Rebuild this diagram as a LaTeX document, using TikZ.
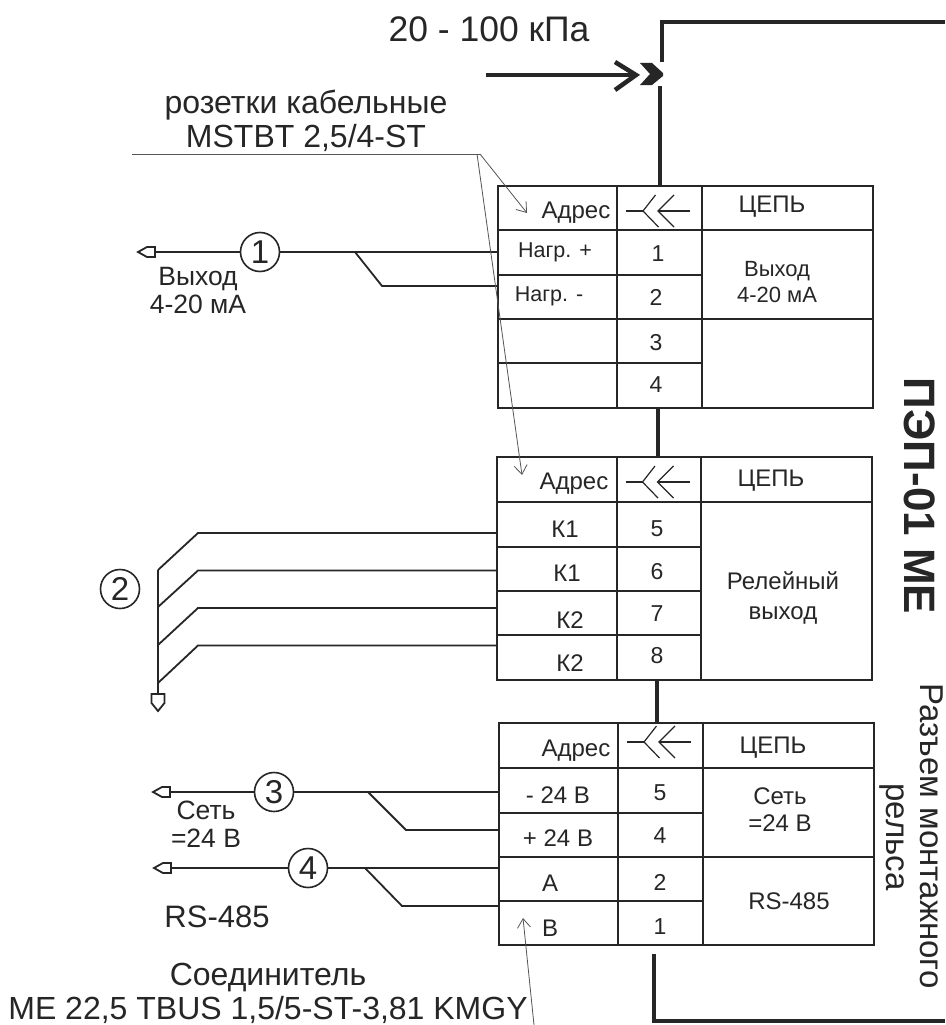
\documentclass[tikz,border=0pt]{standalone}
\usepackage{fontspec}
\setmainfont{Liberation Sans}
\usetikzlibrary{arrows.meta}
\definecolor{ink}{HTML}{262626}
\definecolor{lead}{HTML}{555555}
\newcommand{\fs}[2]{\fontsize{#1}{#2}\selectfont}
\newcommand{\cellb}[5]{\node[cellbox,minimum width={#4-#2},minimum height={#5-#3}] (#1) at ({(#2+#4)/2},{(#3+#5)/2}) {};}
\newcommand{\conn}[2]{%
  \draw[thinw] (#1-33.5,#2) -- (#1-16.5,#2);
  \draw[thinw] (#1-4,#2-16) -- (#1-16.5,#2) -- (#1-1,#2+16);
  \draw[thinw] (#1+30.5,#2) -- (#1-1.5,#2);
  \draw[thinw] (#1+14.5,#2-16) -- (#1-1.5,#2) -- (#1+14.5,#2+16);}
\newcommand{\termleft}[1]{\draw[wire,fill=white,line join=miter] (#1) ++(0,-5) -- ++(-8,0) -- ++(-9,5) -- ++(9,5) -- ++(8,0) -- cycle;}
\tikzset{
  cellbox/.style={draw=ink,line width=1.5pt,inner sep=0pt,outer sep=0pt},
  wire/.style={draw=ink,line width=1.8pt},
  thinw/.style={draw=ink,line width=1.2pt},
  bus/.style={draw=ink,line width=4pt},
  leader/.style={draw=lead,line width=0.8pt},
  leadarrow/.style={leader,-{Straight Barb[length=9pt,width=13pt,line width=0.8pt]}},
  wiremark/.style={draw=ink,circle,line width=1.6pt,minimum size=39pt,inner sep=0pt,text=ink,font=\fs{33}{33}},
  big/.style={text=ink,inner sep=0pt,align=center,font=\fs{32}{34}},
  mid/.style={text=ink,inner sep=0pt,align=center,font=\fs{24}{28}},
  small/.style={text=ink,inner sep=0pt,align=center,font=\fs{21.5}{26}},
  lab/.style={text=ink,inner sep=0pt,align=center,font=\fs{24}{28}},
  outer/.style={text=ink,inner sep=0pt,align=center,font=\fs{26.5}{28}},
  num/.style={text=ink,inner sep=0pt,font=\fs{23}{23}}
}
\begin{document}
\begin{tikzpicture}[x=1pt,y=-1pt]
\useasboundingbox (0,0) rectangle (945,1025);
\fill[white] (0,0) rectangle (945,1025);

% table 1
\cellb{aH}{498}{186}{617}{230}\cellb{bH}{617}{186}{702}{230}\cellb{cH}{702}{186}{873}{230}
\cellb{aA}{498}{230}{617}{275}\cellb{bA}{617}{230}{702}{275}
\cellb{aB}{498}{275}{617}{319}\cellb{bB}{617}{275}{702}{319}
\cellb{aC}{498}{319}{617}{363}\cellb{bC}{617}{319}{702}{363}
\cellb{aD}{498}{363}{617}{408}\cellb{bD}{617}{363}{702}{408}
\cellb{cA}{702}{230}{873}{319}\cellb{cB}{702}{319}{873}{408}
\conn{659.5}{211}
\node[mid] (t1) at (576,213) {Адрес};
\node[mid] (t2) at (772,207) {ЦЕПЬ};
\node[small] (t3) at (555,252) {Нагр. +};
\node[small] (t4) at (549,296) {Нагр. -};
\node[num] (n1) at (658,254) {1};
\node[num] (n2) at (656,297) {2};
\node[num] (n3) at (656,343) {3};
\node[num] (n4) at (656,385) {4};
\node[small,font=\fs{22}{26}] (t5) at (777,282) {Выход\\4-20 мА};

% table 2
\cellb{dH}{497}{457}{617}{502}\cellb{eH}{617}{457}{701}{502}\cellb{fH}{701}{457}{872}{502}
\cellb{dA}{497}{502}{617}{547}\cellb{eA}{617}{502}{701}{547}
\cellb{dB}{497}{547}{617}{591}\cellb{eB}{617}{547}{701}{591}
\cellb{dC}{497}{591}{617}{635}\cellb{eC}{617}{591}{701}{635}
\cellb{dD}{497}{635}{617}{680}\cellb{eD}{617}{635}{701}{680}
\cellb{fA}{701}{502}{872}{680}
\conn{659}{482}
\node[mid] (t6) at (574,484) {Адрес};
\node[mid] (t7) at (771,481) {ЦЕПЬ};
\node[lab] (k1) at (565,529) {К1};
\node[lab] (k2) at (567,573) {К1};
\node[lab] (k3) at (570,620) {К2};
\node[lab] (k4) at (570,663) {К2};
\node[num] (n5) at (657,529) {5};
\node[num] (n6) at (657,572) {6};
\node[num] (n7) at (657,614) {7};
\node[num] (n8) at (657,656) {8};
\node[lab,font=\fs{24}{30}] (t8) at (783,598) {Релейный\\выход};

% table 3
\cellb{gH}{499}{723}{618}{768}\cellb{hH}{618}{723}{703}{768}\cellb{iH}{703}{723}{874}{768}
\cellb{gA}{499}{768}{618}{813}\cellb{hA}{618}{768}{703}{813}
\cellb{gB}{499}{813}{618}{857}\cellb{hB}{618}{813}{703}{857}
\cellb{gC}{499}{857}{618}{901}\cellb{hC}{618}{857}{703}{901}
\cellb{gD}{499}{901}{618}{945}\cellb{hD}{618}{901}{703}{945}
\cellb{iA}{703}{768}{874}{857}\cellb{iB}{703}{857}{874}{945}
\conn{660.5}{742}
\node[mid] (t9) at (576,751) {Адрес};
\node[mid] (t10) at (773,748) {ЦЕПЬ};
\node[lab] (t11) at (558,795) {- 24 В};
\node[lab] (t12) at (558,838) {+ 24 В};
\node[lab] (t13) at (550,883) {А};
\node[lab] (t14) at (550,928) {В};
\node[num] (m5) at (660,793) {5};
\node[num] (m4) at (660,836) {4};
\node[num] (m2) at (660,882) {2};
\node[num] (m1) at (660,927) {1};
\node[lab,font=\fs{24}{27}] (t15) at (780,810) {Сеть\\=24 В};
\node[lab] (t16) at (789,901) {RS-485};

% buses
\coordinate (p0) at (945,22);
\coordinate (p1) at (662,22);
\coordinate (p2) at (662,62);
\coordinate (p3) at (660,86);
\coordinate (p4) at (660,186);
\coordinate (p5) at (945,1021);
\coordinate (p6) at (653.5,1021);
\coordinate (p7) at (653.5,954);
\draw[bus,line join=miter] (p0) -- (p1) -- (p2);
\draw[bus] (p3) -- (p4);
\draw[bus] (658,408) -- (658,457);
\draw[bus] (657,680) -- (657,723);
\draw[bus,line join=miter] (p5) -- (p6) -- (p7);

% pressure arrow
\coordinate (q0) at (486,75);
\coordinate (q1) at (636,75);
\draw[bus] (q0) -- (q1);
\draw[ink,line width=4.5pt,line join=miter] (615,62) -- (636,75) -- (615,90);
\fill[ink] (640,63) -- (652,63) -- (663,73) -- (663,76) -- (652,85) -- (640,85) -- (650,74) -- cycle;
\node[big,font=\fs{35.5}{35.5}] (t17) at (489,29) {20 - 100 кПа};

% wire groups
\node[wiremark] (c1) at (260,252) {1};
\coordinate (e1) at (155,252);
\coordinate (b1) at (355,252);
\coordinate (b1k) at (382,286);
\draw[wire] (e1) -- (c1);
\draw[wire] (c1) -- (c1 -| aA.west);
\draw[wire] (b1) -- (b1k) -- (b1k -| aB.west);
\termleft{e1}
\node[outer] (t18) at (198,291) {Выход\\4-20 мА};

\node[wiremark] (c2) at (120,589) {2};
\coordinate (r0) at (158,570);
\coordinate (r1) at (158,607);
\coordinate (r2) at (158,645);
\coordinate (r3) at (158,683);
\coordinate (r4) at (158,694);
\coordinate (s0) at (198,533);
\coordinate (s1) at (198,570.5);
\coordinate (s2) at (198,608);
\coordinate (s3) at (198,645.5);
\draw[wire] (r0) -- (r4);
\draw[wire] (r0) -- (s0) -- (s0 -| dA.west);
\draw[wire] (r1) -- (s1) -- (s1 -| dB.west);
\draw[wire] (r2) -- (s2) -- (s2 -| dC.west);
\draw[wire] (r3) -- (s3) -- (s3 -| dD.west);
\draw[wire,fill=white,line join=miter] (r4) ++(-6.5,0) -- ++(13,0) -- ++(0,9) -- ++(-6.5,8) -- ++(-6.5,-8) -- cycle;

\node[wiremark] (c3) at (274,792) {3};
\coordinate (e3) at (170,792);
\coordinate (b3) at (368,792);
\coordinate (b3k) at (406,830);
\draw[wire] (e3) -- (c3);
\draw[wire] (c3) -- (c3 -| gA.west);
\draw[wire] (b3) -- (b3k) -- (b3k -| gB.west);
\termleft{e3}
\node[outer] (t19) at (206,824) {Сеть\\=24 В};

\node[wiremark] (c4) at (308,868) {4};
\coordinate (e4) at (171,868);
\coordinate (b4) at (365,868);
\coordinate (b4k) at (402,906);
\draw[wire] (e4) -- (c4);
\draw[wire] (c4) -- (c4 -| gC.west);
\draw[wire] (b4) -- (b4k) -- (b4k -| gD.west);
\termleft{e4}
\node[outer,font=\fs{31}{31}] (t20) at (217,917) {RS-485};

% callouts
\node[big] (t21) at (306,121) {розетки кабельные\\MSTBT 2,5/4-ST};
\coordinate (l0) at (132,154);
\coordinate (l1) at (480,154);
\coordinate (l2) at (477,154);
\coordinate (l3) at (527,213);
\coordinate (l4) at (522,475);
\coordinate (l5) at (534,1025);
\coordinate (l6) at (523,918);
\draw[leader] (l0) -- (l1);
\draw[leadarrow] (l1) -- (l3);
\draw[leadarrow] (l2) -- (l4);
\draw[leadarrow] (l5) -- (l6);
\node[big] (t22) at (268,993) {Соединитель\\ME 22,5 TBUS 1,5/5-ST-3,81 KMGY};

% rotated labels
\node[text=ink,inner sep=0pt,rotate=-90,font=\bfseries\fs{44}{44}] (t23) at (920,496) {ПЭП-01 МЕ};
\node[text=ink,inner sep=0pt,rotate=-90,font=\fs{33}{33}] (t24) at (932,836) {Разъем монтажного};
\node[text=ink,inner sep=0pt,rotate=-90,font=\fs{33}{33}] (t25) at (892,837) {рельса};
\end{tikzpicture}
\end{document}
